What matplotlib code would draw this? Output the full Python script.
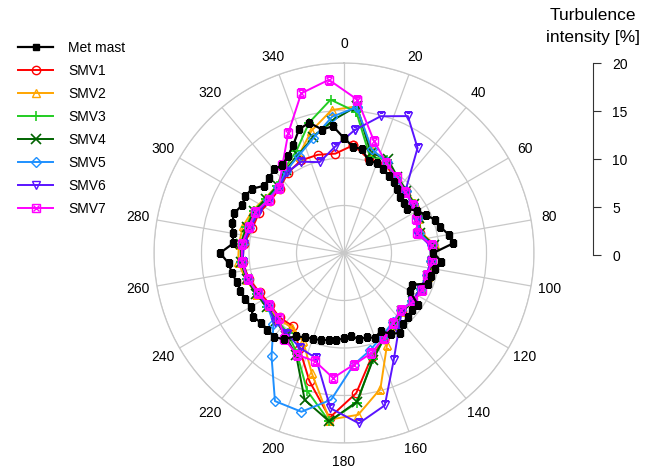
import numpy as np
import matplotlib
matplotlib.use("Agg")
import matplotlib.pyplot as plt
from matplotlib.legend_handler import HandlerTuple

plt.rcParams['font.family'] = ['Liberation Sans', 'DejaVu Sans']

# wind direction bins
met_dir = list(range(0, 360, 5))
smv_dir = list(range(5, 360, 10))

# turbulence intensity [%]
met_mast = [12.1, 11.2, 11.1, 10.0, 10.1, 9.7, 9.4, 9.1, 8.75, 8.4, 8.2, 8.1,
            8.9, 9.5, 10.2, 10.5, 11.2, 11.5, 9.4, 10.3, 9.7, 9.5, 9.4, 7.9,
            8.0, 9.5, 9.3, 9.5, 9.7, 10.3, 9.8, 9.1, 9.5, 9.2, 9.2, 8.8,
            9.0, 9.2, 9.3, 9.5, 9.6, 9.8, 10.1, 11.1, 11.5, 11.4, 11.4, 11.7,
            11.3, 11.5, 11.6, 11.7, 12.0, 12.2, 13.05, 11.7, 11.9, 12.2, 12.3, 11.85,
            12.0, 11.8, 11.0, 11.1, 11.5, 11.3, 11.8, 12.6, 13.85, 14.2, 13.2, 13.4]

smv1 = [11.4, 10.2, 10.3, 9.5, 9.2, 8.9, 8.6, 8.3, 9.4, 9.2, 9.2, 8.9,
        8.8, 8.6, 9.1, 10.0, 11.3, 14.8, 17.4, 14.0, 11.1, 9.4, 9.6, 9.5,
        9.8, 10.4, 10.7, 10.6, 10.0, 9.9, 9.5, 9.6, 10.3, 10.75, 10.7, 10.5]
smv2 = [15.5, 11.2, 10.7, 9.6, 9.3, 9.1, 8.7, 8.4, 9.6, 9.4, 9.3, 9.1,
        8.9, 8.7, 9.2, 10.7, 14.8, 17.1, 17.6, 13.1, 10.2, 9.6, 9.8, 9.8,
        10.2, 10.7, 11.2, 11.1, 11.0, 10.6, 10.1, 10.0, 10.8, 11.3, 13.3, 15.1]
smv3 = [14.9, 10.5, 10.8, 9.7, 9.2, 9.0, 8.6, 8.2, 9.4, 9.3, 9.1, 9.0,
        8.8, 8.6, 9.2, 10.0, 11.6, 15.8, 17.8, 15.0, 11.7, 10.3, 10.0, 9.9,
        10.1, 10.6, 10.9, 10.9, 10.7, 10.5, 10.0, 10.0, 10.9, 11.85, 14.2, 16.2]
smv4 = [15.5, 10.9, 10.9, 9.8, 9.3, 9.0, 8.7, 8.3, 9.5, 9.4, 9.2, 9.0,
        8.9, 8.7, 9.2, 9.9, 11.7, 15.7, 17.8, 16.0, 11.9, 10.7, 10.1, 9.9,
        10.2, 10.6, 10.9, 10.9, 10.6, 10.4, 10.0, 9.9, 10.7, 11.4, 12.6, 14.0]
smv5 = [15.4, 11.3, 10.6, 9.5, 9.2, 8.9, 8.6, 8.2, 9.3, 9.2, 9.0, 8.9,
        8.8, 8.5, 8.9, 9.6, 10.6, 11.8, 15.5, 17.3, 17.2, 13.3, 10.5, 9.8,
        10.0, 10.5, 10.8, 10.7, 10.3, 10.2, 9.8, 9.8, 10.6, 11.3, 12.5, 14.4]
smv6 = [13.0, 14.9, 15.9, 13.5, 9.1, 8.8, 8.5, 8.0, 9.1, 9.2, 9.0, 8.9,
        8.8, 8.6, 10.0, 12.4, 16.6, 18.0, 16.4, 11.45, 11.0, 10.4, 10.2, 9.8,
        10.0, 10.5, 10.7, 10.6, 10.2, 10.0, 9.7, 9.7, 10.4, 10.6, 9.9, 11.2]
smv7 = [16.2, 12.2, 10.5, 9.75, 9.1, 8.9, 8.4, 8.0, 9.25, 9.3, 9.05, 9.1,
        8.9, 8.5, 9.0, 9.9, 10.95, 11.8, 13.2, 11.8, 11.8, 11.0, 9.7, 9.6,
        10.0, 10.5, 10.8, 10.8, 10.4, 10.3, 9.7, 9.7, 11.3, 13.9, 17.4, 18.3]

labels = ['SMV1', 'SMV2', 'SMV3', 'SMV4', 'SMV5', 'SMV6', 'SMV7']
colors = ['#ff0000', '#ffa500', '#22cc22', '#006400', '#1e90ff', '#5a14ff', '#ff00ff']
markers = ['o', '^', '+', 'x', 'D', 'v', 's']


def closed(d, v):
    th = np.deg2rad(np.append(d, d[0]))
    return th, np.append(v, v[0])


fig = plt.figure(figsize=(6.57, 4.74), dpi=100)
ax = fig.add_axes([0.2344, 0.0654, 0.5784, 0.8017], projection='polar')
ax.set_theta_zero_location('N')
ax.set_theta_direction(-1)
ax.set_ylim(0, 20)
ax.set_thetagrids(range(0, 360, 20), [str(a) for a in range(0, 360, 20)], fontsize=10)
ax.set_rgrids([5, 10, 15, 20], labels=[''] * 4)
ax.grid(True, color='#c8c8c8', lw=0.9)
ax.spines['polar'].set_color('#c8c8c8')
ax.spines['polar'].set_linewidth(0.9)
ax.tick_params(axis='x', pad=3)

handles = []
for vals, lab, c, m in zip([smv1, smv2, smv3, smv4, smv5, smv6, smv7], labels, colors, markers):
    th, r = closed(smv_dir, vals)
    if m in ['+', 'x']:
        ln, = ax.plot(th, r, color=c, lw=1.4, marker=m, ms=7, mew=1.2)
        handles.append(ln)
    else:
        ln, = ax.plot(th, r, color=c, lw=1.4, marker=m, ms=6 if m != 'D' else 5.2,
                      mfc='none', mec=c, mew=1.0)
        if lab == 'SMV7':
            xm, = ax.plot(th, r, ls='none', marker='x', ms=4.5, color=c, mew=1.0)
            handles.append((ln, xm))
        else:
            handles.append(ln)

th, r = closed(met_dir, met_mast)
met_ln, = ax.plot(th, r, color='black', lw=1.6, marker='s', ms=5, zorder=5)

fig.legend([met_ln] + handles, ['Met mast'] + labels, loc='upper left',
           bbox_to_anchor=(0.009, 0.94), frameon=False, fontsize=10,
           handlelength=2.5, handletextpad=1.1, labelspacing=0.65,
           handler_map={tuple: HandlerTuple(ndivide=1)})

# radial scale on the right
sc = fig.add_axes([0.5, 0.462, 0.4026, 0.405])
sc.set_ylim(0, 20)
sc.patch.set_visible(False)
for s in ['left', 'top', 'bottom']:
    sc.spines[s].set_visible(False)
sc.spines['right'].set_color('#333333')
sc.set_xticks([])
sc.yaxis.tick_right()
sc.set_yticks([0, 5, 10, 15, 20])
sc.tick_params(axis='y', length=6, color='#333333', labelsize=10, pad=8)
fig.text(0.903, 0.967, 'Turbulence', ha='center', va='center', fontsize=12.5)
fig.text(0.903, 0.92, 'intensity [%]', ha='center', va='center', fontsize=12.5)

fig.savefig('out.png', dpi=100)
